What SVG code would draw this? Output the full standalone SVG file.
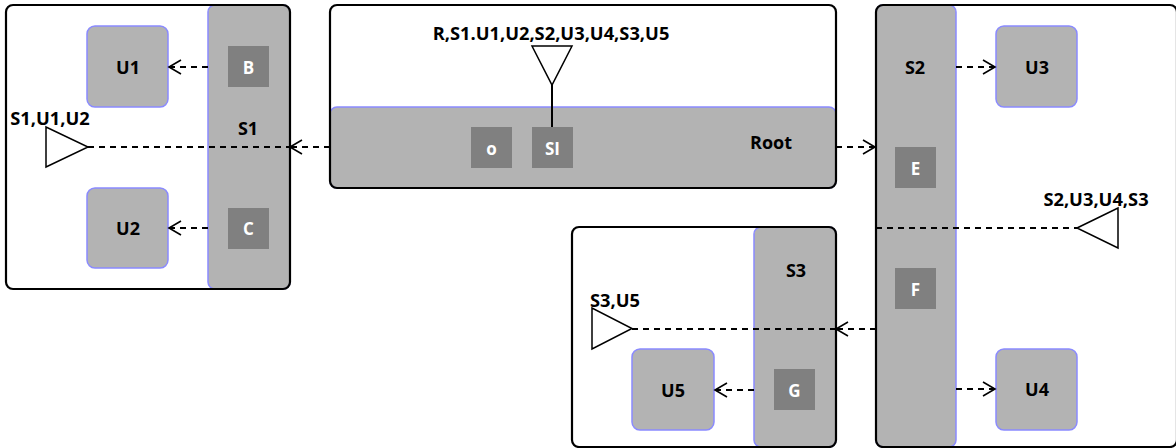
<svg xmlns="http://www.w3.org/2000/svg" width="1176" height="448" viewBox="0 0 1176 448">
<style>
.bg{fill:#ffffff;stroke:none}
.frame{fill:none;stroke:#000;stroke-width:2.2}
.bar{fill:#b3b3b3;stroke:#8a8aff;stroke-width:1.5}
.unit{fill:#b3b3b3;stroke:#8a8aff;stroke-width:1.5}
.port{fill:#808080;stroke:none}
.lbl{font-family:"Open Sans","DejaVu Sans",sans-serif;font-weight:bold;font-size:18px;fill:#000;text-anchor:middle;dominant-baseline:central}
.plbl{font-family:"Open Sans","DejaVu Sans",sans-serif;font-weight:bold;font-size:17px;fill:#fff;text-anchor:middle;dominant-baseline:central}
.ann{font-family:"Open Sans","DejaVu Sans",sans-serif;font-weight:bold;font-size:18.3px;fill:#000;text-anchor:middle;dominant-baseline:central}
.tri{fill:#fff;stroke:#000;stroke-width:1.5}
.dash{fill:none;stroke:#000;stroke-width:2;stroke-dasharray:6 5}
.solid{fill:none;stroke:#000;stroke-width:2}
</style>
<defs>
<marker id="arr" viewBox="-14 -9 16 18" markerWidth="16" markerHeight="18" refX="0" refY="0" orient="auto" markerUnits="userSpaceOnUse">
<path d="M-12,-7 L0,0 L-12,7" fill="none" stroke="#000" stroke-width="1.6"/>
</marker>
</defs>

<g id="S1">
<rect class="bg" x="6" y="5" width="284" height="284" rx="7"/>
<rect class="bar" x="208" y="5" width="82" height="284" rx="7"/>
<rect class="frame" x="6" y="5" width="284" height="284" rx="7"/>
<text class="lbl" x="248" y="128">S1</text>
</g>
<g id="U1"><rect class="unit" x="87" y="26" width="81" height="81" rx="8"/><text class="lbl" x="128" y="67">U1</text></g>
<g id="U2"><rect class="unit" x="87" y="188" width="81" height="80" rx="8"/><text class="lbl" x="128" y="228">U2</text></g>
<g id="B"><rect class="port" x="228" y="46" width="41" height="41"/><text class="plbl" x="248.5" y="67">B</text></g>
<g id="C"><rect class="port" x="228" y="208" width="41" height="41"/><text class="plbl" x="248.5" y="228">C</text></g>
<g id="S1-ann">
<text class="ann" x="50" y="117">S1,U1,U2</text>
<polygon class="tri" points="46,127 46,167 88,147"/>
</g>

<g id="Root">
<rect class="bg" x="330" y="5" width="506" height="183" rx="7"/>
<rect class="bar" x="330" y="107" width="506" height="81" rx="7"/>
<rect class="frame" x="330" y="5" width="506" height="183" rx="7"/>
<text class="lbl" x="771" y="142">Root</text>
</g>
<g id="o"><rect class="port" x="471" y="127" width="41" height="41"/><text class="plbl" x="491.5" y="148">o</text></g>
<g id="SI"><rect class="port" x="532" y="127" width="41" height="41"/><text class="plbl" x="552.5" y="148">SI</text></g>
<g id="Root-ann">
<text class="ann" x="551" y="32">R,S1.U1,U2,S2,U3,U4,S3,U5</text>
<polygon class="tri" points="532,46 572,46 552,85"/>
</g>

<g id="S2">
<rect class="bg" x="876" y="5" width="301" height="442" rx="7"/>
<rect class="bar" x="876" y="5" width="80" height="442" rx="7"/>
<rect class="frame" x="876" y="5" width="301" height="442" rx="7"/>
<text class="lbl" x="915" y="67">S2</text>
</g>
<g id="U3"><rect class="unit" x="996" y="26" width="81" height="81" rx="8"/><text class="lbl" x="1037" y="67">U3</text></g>
<g id="U4"><rect class="unit" x="996" y="349" width="81" height="81" rx="8"/><text class="lbl" x="1037" y="389">U4</text></g>
<g id="E"><rect class="port" x="895" y="147" width="41" height="41"/><text class="plbl" x="915.5" y="168">E</text></g>
<g id="F"><rect class="port" x="895" y="268" width="41" height="41"/><text class="plbl" x="915.5" y="289">F</text></g>
<g id="S2-ann">
<text class="ann" x="1096" y="198">S2,U3,U4,S3</text>
<polygon class="tri" points="1077,228 1118,208 1118,248"/>
</g>

<g id="S3">
<rect class="bg" x="572" y="227" width="264" height="220" rx="7"/>
<rect class="bar" x="754" y="227" width="82" height="220" rx="7"/>
<rect class="frame" x="572" y="227" width="264" height="220" rx="7"/>
<text class="lbl" x="796" y="270">S3</text>
</g>
<g id="U5"><rect class="unit" x="632" y="349" width="82" height="81" rx="8"/><text class="lbl" x="673" y="390">U5</text></g>
<g id="G"><rect class="port" x="774" y="369" width="41" height="41"/><text class="plbl" x="794.5" y="390">G</text></g>
<g id="S3-ann">
<text class="ann" x="615" y="299">S3,U5</text>
<polygon class="tri" points="592,308 592,349 632,328.5"/>
</g>

<g id="connectors">
<line class="dash" x1="208" y1="67" x2="169" y2="67" marker-end="url(#arr)"/>
<line class="dash" x1="208" y1="228" x2="169" y2="228" marker-end="url(#arr)"/>
<line class="dash" x1="88" y1="147" x2="290" y2="147"/>
<line class="dash" x1="330" y1="147" x2="290" y2="147" marker-end="url(#arr)"/>
<line class="dash" x1="836" y1="147" x2="875" y2="147" marker-end="url(#arr)"/>
<line class="dash" x1="956" y1="67" x2="995" y2="67" marker-end="url(#arr)"/>
<line class="dash" x1="956" y1="389" x2="995" y2="389" marker-end="url(#arr)"/>
<line class="dash" x1="876" y1="228" x2="1077" y2="228"/>
<line class="dash" x1="632" y1="329" x2="836" y2="329"/>
<line class="dash" x1="876" y1="329" x2="836" y2="329" marker-end="url(#arr)"/>
<line class="dash" x1="754" y1="390" x2="715" y2="390" marker-end="url(#arr)"/>
<line class="solid" x1="552" y1="85" x2="552" y2="127"/>
</g>
</svg>
